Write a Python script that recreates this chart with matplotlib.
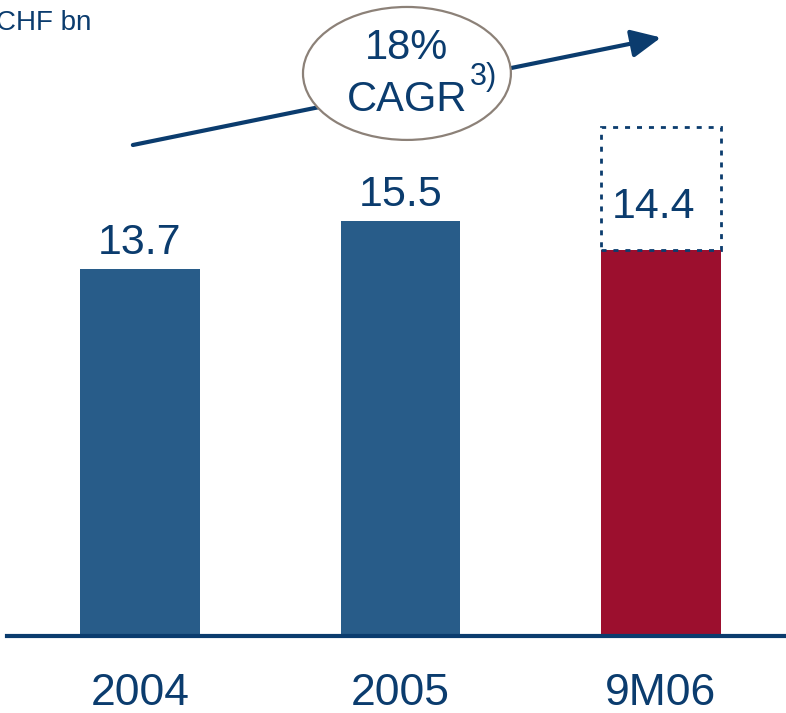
import matplotlib.pyplot as plt
from matplotlib.patches import Ellipse

plt.rcParams['font.family'] = ['Liberation Sans', 'DejaVu Sans']

# CHF bn per period; 9M06 is the nine-month figure, with its full-year run rate outlined
categories = ['2004', '2005', '9M06']
values = [13.7, 15.5, 14.4]
annualised_9m06 = 19.0
cagr_label = '18%'

NAVY = '#0b3c6e'
BLUE = '#285c89'
RED = '#9c0f2e'

fig = plt.figure(figsize=(7.86, 7.13), dpi=100)
ax = fig.add_axes([0, 0, 1, 1])
ax.set_xlim(-0.537, 2.48)
ax.set_ylim(-2.87, 23.73)
ax.axis('off')

x = list(range(len(categories)))
colors = [BLUE, BLUE, RED]
ax.bar(x, values, width=0.46, color=colors, zorder=2)

# run-rate outline on top of the 9M06 bar
ax.bar(x[-1], annualised_9m06 - values[-1], bottom=values[-1], width=0.46,
       fill=False, edgecolor=NAVY, linewidth=2, linestyle=(0, (1.8, 2.5)), zorder=3)

# baseline
ax.axhline(0, xmin=7 / 786, xmax=1, color=NAVY, linewidth=3, zorder=4)

for xi, cat in zip(x, categories):
    ax.text(xi, -2.15, cat, ha='center', va='center', fontsize=32, color=NAVY)

for xi, val in zip(x[:2], values[:2]):
    ax.text(xi, val + 0.55, f'{val:.1f}', ha='center', va='baseline',
            fontsize=31, color=NAVY)
ax.text(x[-1] - 0.03, values[-1] + 1.2, f'{values[-1]:.1f}', ha='center',
        va='baseline', fontsize=31, color=NAVY, zorder=4)

# growth arrow with the CAGR bubble
ax.annotate('', xy=(2.0, 22.33), xytext=(-0.027, 18.32),
            arrowprops=dict(arrowstyle='-|>,head_length=1.8,head_width=0.85',
                            color=NAVY, linewidth=3, shrinkA=0, shrinkB=0),
            zorder=5)
ax.add_patch(Ellipse((1.025, 20.99), 0.798, 4.96, facecolor='white',
                     edgecolor='#8c8178', linewidth=1.6, zorder=6))
ax.text(1.025, 21.94, cagr_label, ha='center', va='center', fontsize=30,
        color=NAVY, zorder=7)
ax.text(1.025, 20.0, 'CAGR', ha='center', va='center', fontsize=30,
        color=NAVY, zorder=7)
ax.text(1.265, 20.85, '3)', ha='left', va='center', fontsize=22,
        color=NAVY, zorder=7)

fig.text(91 / 786, 1 - 29.5 / 713, 'CHF bn', ha='right', va='baseline',
         fontsize=20, color=NAVY)

fig.savefig('out.png', dpi=100)
